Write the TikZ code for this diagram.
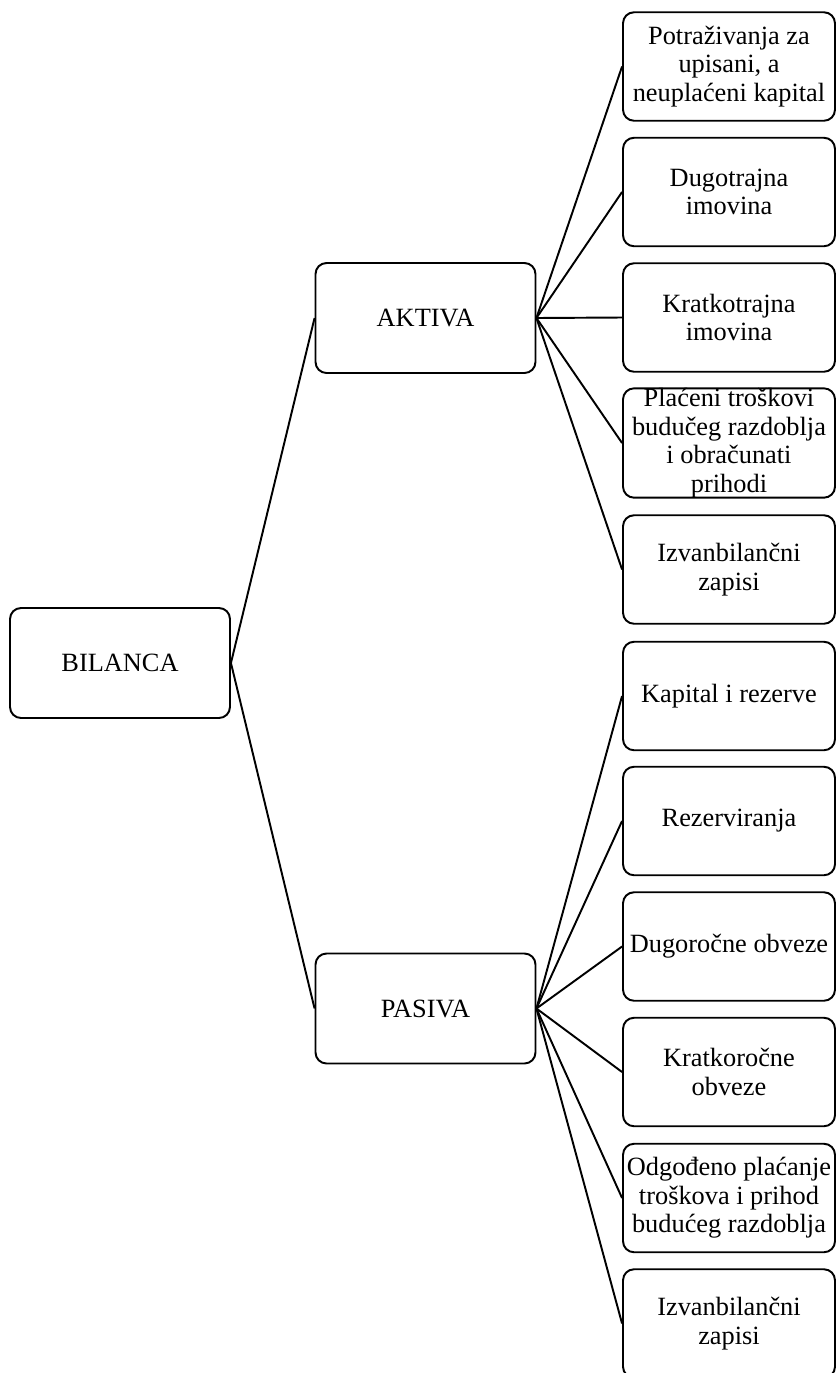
\documentclass[tikz,border=0pt]{standalone}
\usepackage{fontspec}
\setmainfont{Liberation Serif}
\usepackage{tikz}

\tikzset{
	box/.style={draw, rounded corners=0.22cm, line width=1.1pt, align=center, inner sep=0pt, font=\fontsize{15}{16.2}\selectfont},
	bigbox/.style={box, minimum width=4.4cm, minimum height=2.2cm},
	leafbox/.style={box, minimum width=4.24cm, minimum height=2.17cm},
	link/.style={line width=1.1pt}
}

\begin{document}
\begin{tikzpicture}[x=0.02cm, y=-0.02cm]
	\useasboundingbox (0,0) rectangle (836,1373);
	\node[bigbox] (bilanca) at (120,663) {BILANCA};
	\node[bigbox] (aktiva) at (425.5,318) {AKTIVA};
	\node[bigbox] (pasiva) at (425.5,1008.5) {PASIVA};
	
	% Aktiva
	\node[leafbox] (a1) at (729,66.5) {Potraživanja za\\upisani, a\\neuplaćeni kapital};
	\node[leafbox] (a2) at (729,192) {Dugotrajna\\imovina};
	\node[leafbox] (a3) at (729,317.5) {Kratkotrajna\\imovina};
	\node[leafbox] (a4) at (729,443) {Plaćeni troškovi\\budučeg razdoblja\\i obračunati\\prihodi};
	\node[leafbox] (a5) at (729,569.5) {Izvanbilančni\\zapisi};
	% Pasiva
	\node[leafbox] (p1) at (729,696) {Kapital i rezerve};
	\node[leafbox] (p2) at (729,821) {Rezerviranja};
	\node[leafbox] (p3) at (729,946.5) {Dugoročne obveze};
	\node[leafbox] (p4) at (729,1072) {Kratkoročne\\obveze};
	\node[leafbox] (p5) at (729,1198) {Odgođeno plaćanje\\troškova i prihod\\budućeg razdoblja};
	\node[leafbox] (p6) at (729,1323.5) {Izvanbilančni\\zapisi};
	
	% Bilanca
	\draw[link] (bilanca.east) -- (aktiva.west);
	\draw[link] (bilanca.east) -- (pasiva.west);
	% Aktiva
	\draw[link] (aktiva.east) -- (a1.west);
	\draw[link] (aktiva.east) -- (a2.west);
	\draw[link] (aktiva.east) -- (a3.west);
	\draw[link] (aktiva.east) -- (a4.west);
	\draw[link] (aktiva.east) -- (a5.west);
	% Pasiva
	\draw[link] (pasiva.east) -- (p1.west);
	\draw[link] (pasiva.east) -- (p2.west);
	\draw[link] (pasiva.east) -- (p3.west);
	\draw[link] (pasiva.east) -- (p4.west);
	\draw[link] (pasiva.east) -- (p5.west);
	\draw[link] (pasiva.east) -- (p6.west);
\end{tikzpicture}
\end{document}
